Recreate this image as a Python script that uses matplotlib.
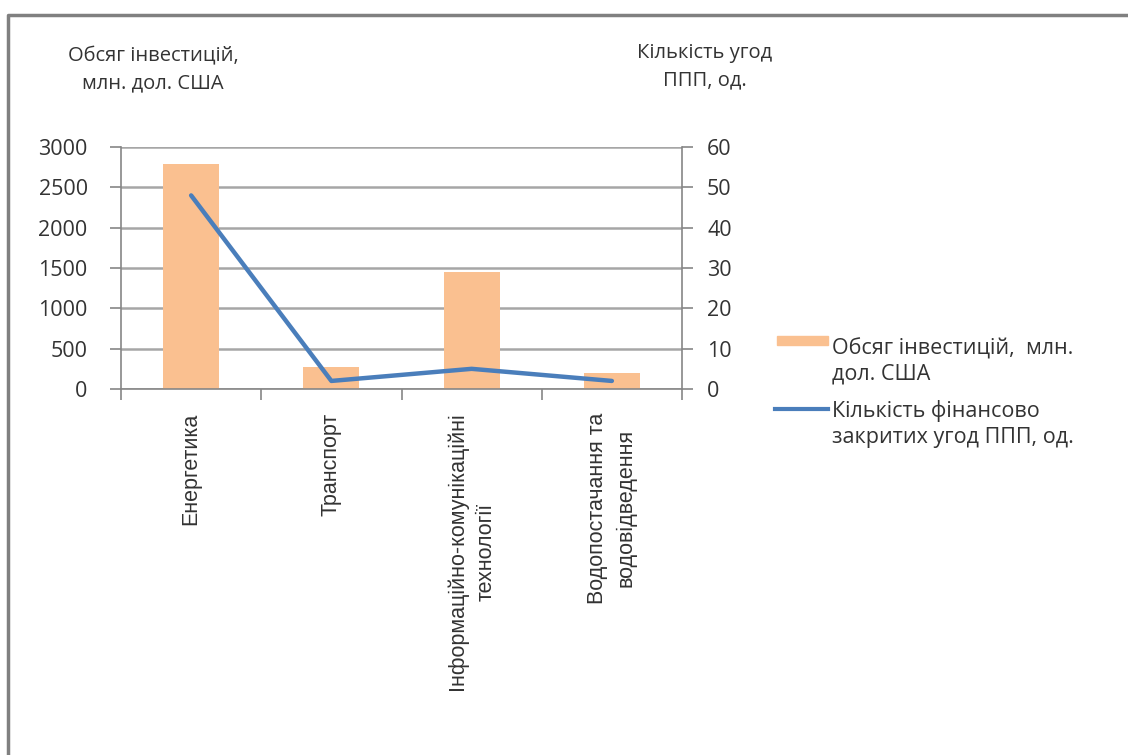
import matplotlib
matplotlib.use("Agg")
import matplotlib.pyplot as plt
from matplotlib.lines import Line2D
from matplotlib.patches import Rectangle
import numpy as np

# Sectors and values
sectors = ["Енергетика", "Транспорт",
           "Інформаційно-комунікаційні\nтехнології",
           "Водопостачання та\nводовідведення"]
investment = [2790, 275, 1450, 200]   # млн. дол. США
deals = [48, 2, 5, 2]                 # кількість угод

bar_color = "#FAC090"
line_color = "#4A7EBB"
grid_color = "#A6A6A6"
axis_color = "#868686"
text_color = "#333333"
ui_font = ["Open Sans", "DejaVu Sans"]
cat_font = ["Liberation Sans Narrow", "Liberation Sans", "DejaVu Sans"]

fig = plt.figure(figsize=(11.28, 7.55), dpi=100)
fig.patch.set_facecolor("white")

W, H = 1128, 755
ax = fig.add_axes([121 / W, 1 - 389 / H, (682 - 121) / W, (389 - 147) / H])
ax2 = ax.twinx()

x = np.arange(len(sectors))
ax.bar(x, investment, width=0.4, color=bar_color, zorder=2)
ax2.plot(x, deals, color=line_color, lw=3.2, solid_capstyle="round", zorder=3)

ax.set_xlim(-0.5, len(sectors) - 0.5)
ax.set_ylim(0, 3000)
ax.set_yticks(np.arange(0, 3001, 500))
ax2.set_ylim(0, 60)
ax2.set_yticks(np.arange(0, 61, 10))

ax.yaxis.grid(True, color=grid_color, lw=1.8, zorder=0)
ax.set_axisbelow(True)

for a in (ax, ax2):
    for s in a.spines.values():
        s.set_color(axis_color)
        s.set_linewidth(1.2)
    a.spines["top"].set_visible(False)
ax.spines["right"].set_visible(False)
ax2.spines["left"].set_visible(False)
ax2.spines["bottom"].set_visible(False)

ax.tick_params(axis="y", direction="out", length=8, width=1.2, color=axis_color,
               labelsize=15.5, labelcolor=text_color, pad=16)
ax2.tick_params(axis="y", direction="out", length=8, width=1.2, color=axis_color,
                labelsize=15.5, labelcolor=text_color, pad=10)
for lbl in ax.get_yticklabels() + ax2.get_yticklabels():
    lbl.set_family(ui_font)

# category boundaries carry the tick marks, labels sit in between
ax.set_xticks(np.arange(-0.5, len(sectors)), minor=False)
ax.set_xticklabels([])
ax.tick_params(axis="x", direction="out", length=8, width=1.2, color=axis_color)
for i, name in enumerate(sectors):
    ax.annotate(name, xy=(i, 0), xycoords=("data", "axes fraction"),
                xytext=(0, -17), textcoords="offset points",
                rotation=90, ha="center", va="top", multialignment="center",
                fontsize=15.5, family=cat_font, color=text_color, linespacing=1.5)

# axis titles above the plot (y is the baseline of the last line)
fig.text(153 / W, 1 - 88 / H, "Обсяг інвестицій,\nмлн. дол. США", ha="center",
         va="baseline", fontsize=14.5, family=ui_font, color=text_color,
         linespacing=1.45)
fig.text(705 / W, 1 - 85 / H, "Кількість угод\nППП, од.", ha="center",
         va="baseline", fontsize=14.5, family=ui_font, color=text_color,
         linespacing=1.45)

# legend on the right
fig.patches.append(Rectangle((777 / W, 1 - 345 / H), 51 / W, 9 / H,
                             transform=fig.transFigure, color=bar_color))
fig.lines.append(Line2D([775 / W, 828 / W], [1 - 409 / H, 1 - 409 / H],
                        transform=fig.transFigure, color=line_color, lw=3))
fig.text(832 / W, 1 - 380 / H, "Обсяг інвестицій,  млн.\nдол. США", ha="left",
         va="baseline", fontsize=15.5, family=ui_font, color=text_color,
         linespacing=1.3)
fig.text(832 / W, 1 - 443 / H, "Кількість фінансово\nзакритих угод ППП, од.",
         ha="left", va="baseline", fontsize=15.5, family=ui_font, color=text_color,
         linespacing=1.3)

# chart frame (top and left edges)
fig.lines.append(Line2D([8 / W, 8 / W, 1.0], [0.0, 1 - 15 / H, 1 - 15 / H],
                        transform=fig.transFigure, color="#808080", lw=2.5))

fig.savefig("out.png", dpi=100, facecolor="white")
